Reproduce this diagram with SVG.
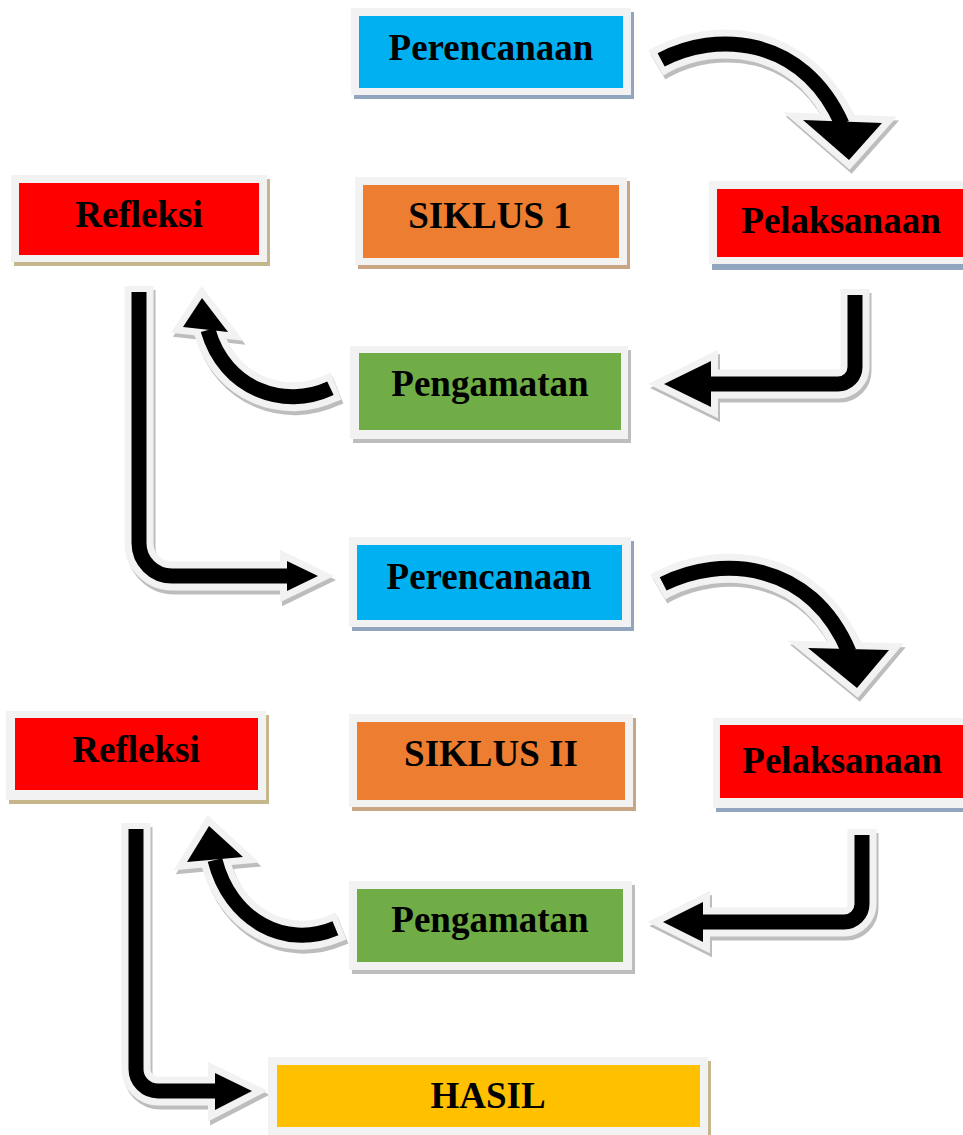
<svg xmlns="http://www.w3.org/2000/svg" xmlns:xlink="http://www.w3.org/1999/xlink" width="963" height="1135" viewBox="0 0 963 1135">
<style>
.frame{fill:#f2f2f2}
.sh-blue{fill:#92a5bf}
.sh-tan{fill:#c6b68c}
.sh-gray{fill:#bdbdbd}
.sh-brown{fill:#c9a583}
.blue{fill:#00b0f0}
.red{fill:#ff0000}
.orange{fill:#ed7d31}
.green{fill:#70ad47}
.yellow{fill:#ffc000}
.lbl{font-family:"Liberation Serif","Times New Roman",serif;font-weight:bold;font-size:37px;fill:#000;text-anchor:middle}
.so{fill:none;stroke:#f2f2f2;stroke-width:29}
.ho{fill:#f2f2f2;stroke:#f2f2f2;stroke-width:14;stroke-linejoin:miter;stroke-miterlimit:10}
.sc{fill:none;stroke:#000;stroke-width:15;stroke-dasharray:0 6 4000}
.hc{fill:#000;stroke:none}
</style>
<defs>
<filter id="sh" x="-20%" y="-20%" width="140%" height="140%">
<feOffset in="SourceAlpha" dx="2" dy="4" result="o"/>
<feFlood flood-color="#bdbdbd"/>
<feComposite in2="o" operator="in" result="s"/>
<feMerge><feMergeNode in="s"/><feMergeNode in="SourceGraphic"/></feMerge>
</filter>
<path id="p1" d="M 656 63 L 661 60 C 715 31 802 35 842 124"/>
<polygon id="h1" points="803,120 882,123 849,160"/>
<path id="p2" d="M 855 289 V 367 A 17 17 0 0 1 838 384 H 705"/>
<polygon id="h2" points="711,361 711,407 664,384"/>
<path id="p3" d="M 336 386 L 331 388 C 285 410 225 390 208 330"/>
<polygon id="h3" points="183,327 228,332 202,298"/>
<path id="p4" d="M 139 286 V 543 A 33 33 0 0 0 172 576 H 292"/>
<polygon id="h4" points="287,561 287,591 318,576"/>
<path id="p5" d="M 658 587 L 663 584 C 720 555 810 560 849 652"/>
<polygon id="h5" points="808,648 889,650 857,688"/>
<path id="p6" d="M 862 829 V 904 A 18 18 0 0 1 844 922 H 697"/>
<polygon id="h6" points="703,902 703,942 663,922"/>
<path id="p7" d="M 341 926 L 336 928 C 285 950 230 920 215 860"/>
<polygon id="h7" points="187,862 243,857 209,826"/>
<path id="p8" d="M 136 823 V 1069 A 22 22 0 0 0 158 1091 H 220"/>
<polygon id="h8" points="215,1073 215,1110 252,1091"/>
</defs>
<rect width="963" height="1135" fill="#fff"/>

<g id="connectors">
<g id="arrow1"><g filter="url(#sh)"><use href="#p1" class="so"/><use href="#h1" class="ho"/></g><use href="#p1" class="sc"/><use href="#h1" class="hc"/></g>
<g id="arrow2"><g filter="url(#sh)"><use href="#p2" class="so"/><use href="#h2" class="ho"/></g><use href="#p2" class="sc"/><use href="#h2" class="hc"/></g>
<g id="arrow3"><g filter="url(#sh)"><use href="#p3" class="so"/><use href="#h3" class="ho"/></g><use href="#p3" class="sc"/><use href="#h3" class="hc"/></g>
<g id="arrow4"><g filter="url(#sh)"><use href="#p4" class="so"/><use href="#h4" class="ho"/></g><use href="#p4" class="sc"/><use href="#h4" class="hc"/></g>
<g id="arrow5"><g filter="url(#sh)"><use href="#p5" class="so"/><use href="#h5" class="ho"/></g><use href="#p5" class="sc"/><use href="#h5" class="hc"/></g>
<g id="arrow6"><g filter="url(#sh)"><use href="#p6" class="so"/><use href="#h6" class="ho"/></g><use href="#p6" class="sc"/><use href="#h6" class="hc"/></g>
<g id="arrow7"><g filter="url(#sh)"><use href="#p7" class="so"/><use href="#h7" class="ho"/></g><use href="#p7" class="sc"/><use href="#h7" class="hc"/></g>
<g id="arrow8"><g filter="url(#sh)"><use href="#p8" class="so"/><use href="#h8" class="ho"/></g><use href="#p8" class="sc"/><use href="#h8" class="hc"/></g>
</g>

<g id="perencanaan1">
<rect class="sh-blue" x="354" y="12" width="280" height="87"/>
<rect class="frame" x="351" y="8" width="280" height="87"/>
<rect class="blue" x="359" y="16" width="264" height="72"/>
<text class="lbl" x="491" y="60">Perencanaan</text>
</g>
<g id="siklus1">
<rect class="sh-brown" x="358" y="181" width="272" height="88"/>
<rect class="frame" x="355" y="177" width="272" height="88"/>
<rect class="orange" x="363" y="185" width="256" height="73"/>
<text class="lbl" x="490" y="228">SIKLUS 1</text>
</g>
<g id="refleksi1">
<rect class="sh-tan" x="14" y="179" width="256" height="87"/>
<rect class="frame" x="11" y="175" width="256" height="87"/>
<rect class="red" x="19" y="183" width="240" height="72"/>
<text class="lbl" x="139" y="227">Refleksi</text>
</g>
<g id="pelaksanaan1">
<rect class="sh-blue" x="712" y="185" width="270" height="85"/>
<rect class="frame" x="709" y="181" width="270" height="83"/>
<rect class="red" x="717" y="189" width="260" height="68"/>
<text class="lbl" x="841" y="233">Pelaksanaan</text>
</g>
<g id="pengamatan1">
<rect class="sh-gray" x="353" y="350" width="278" height="93"/>
<rect class="frame" x="350" y="346" width="278" height="93"/>
<rect class="green" x="359" y="353" width="262" height="77"/>
<text class="lbl" x="490" y="396">Pengamatan</text>
</g>
<g id="perencanaan2">
<rect class="sh-blue" x="352" y="541" width="282" height="90"/>
<rect class="frame" x="349" y="537" width="282" height="90"/>
<rect class="blue" x="357" y="545" width="265" height="75"/>
<text class="lbl" x="489" y="589">Perencanaan</text>
</g>
<g id="siklus2">
<rect class="sh-brown" x="352" y="718" width="284" height="93"/>
<rect class="frame" x="349" y="714" width="284" height="93"/>
<rect class="orange" x="357" y="722" width="268" height="78"/>
<text class="lbl" x="491" y="766">SIKLUS II</text>
</g>
<g id="refleksi2">
<rect class="sh-tan" x="9" y="715" width="260" height="89"/>
<rect class="frame" x="6" y="711" width="260" height="89"/>
<rect class="red" x="15" y="718" width="243" height="72"/>
<text class="lbl" x="136" y="762">Refleksi</text>
</g>
<g id="pelaksanaan2">
<rect class="sh-blue" x="716" y="722" width="270" height="90"/>
<rect class="frame" x="713" y="718" width="270" height="90"/>
<rect class="red" x="720" y="725" width="260" height="73"/>
<text class="lbl" x="842" y="773">Pelaksanaan</text>
</g>
<g id="pengamatan2">
<rect class="sh-gray" x="352" y="885" width="283" height="89"/>
<rect class="frame" x="349" y="881" width="283" height="89"/>
<rect class="green" x="357" y="889" width="266" height="73"/>
<text class="lbl" x="490" y="932">Pengamatan</text>
</g>
<g id="hasil">
<rect class="sh-tan" x="271" y="1061" width="440" height="80"/>
<rect class="frame" x="268" y="1057" width="440" height="80"/>
<rect class="yellow" x="277" y="1065" width="423" height="62"/>
<text class="lbl" x="488" y="1108">HASIL</text>
</g>
</svg>
